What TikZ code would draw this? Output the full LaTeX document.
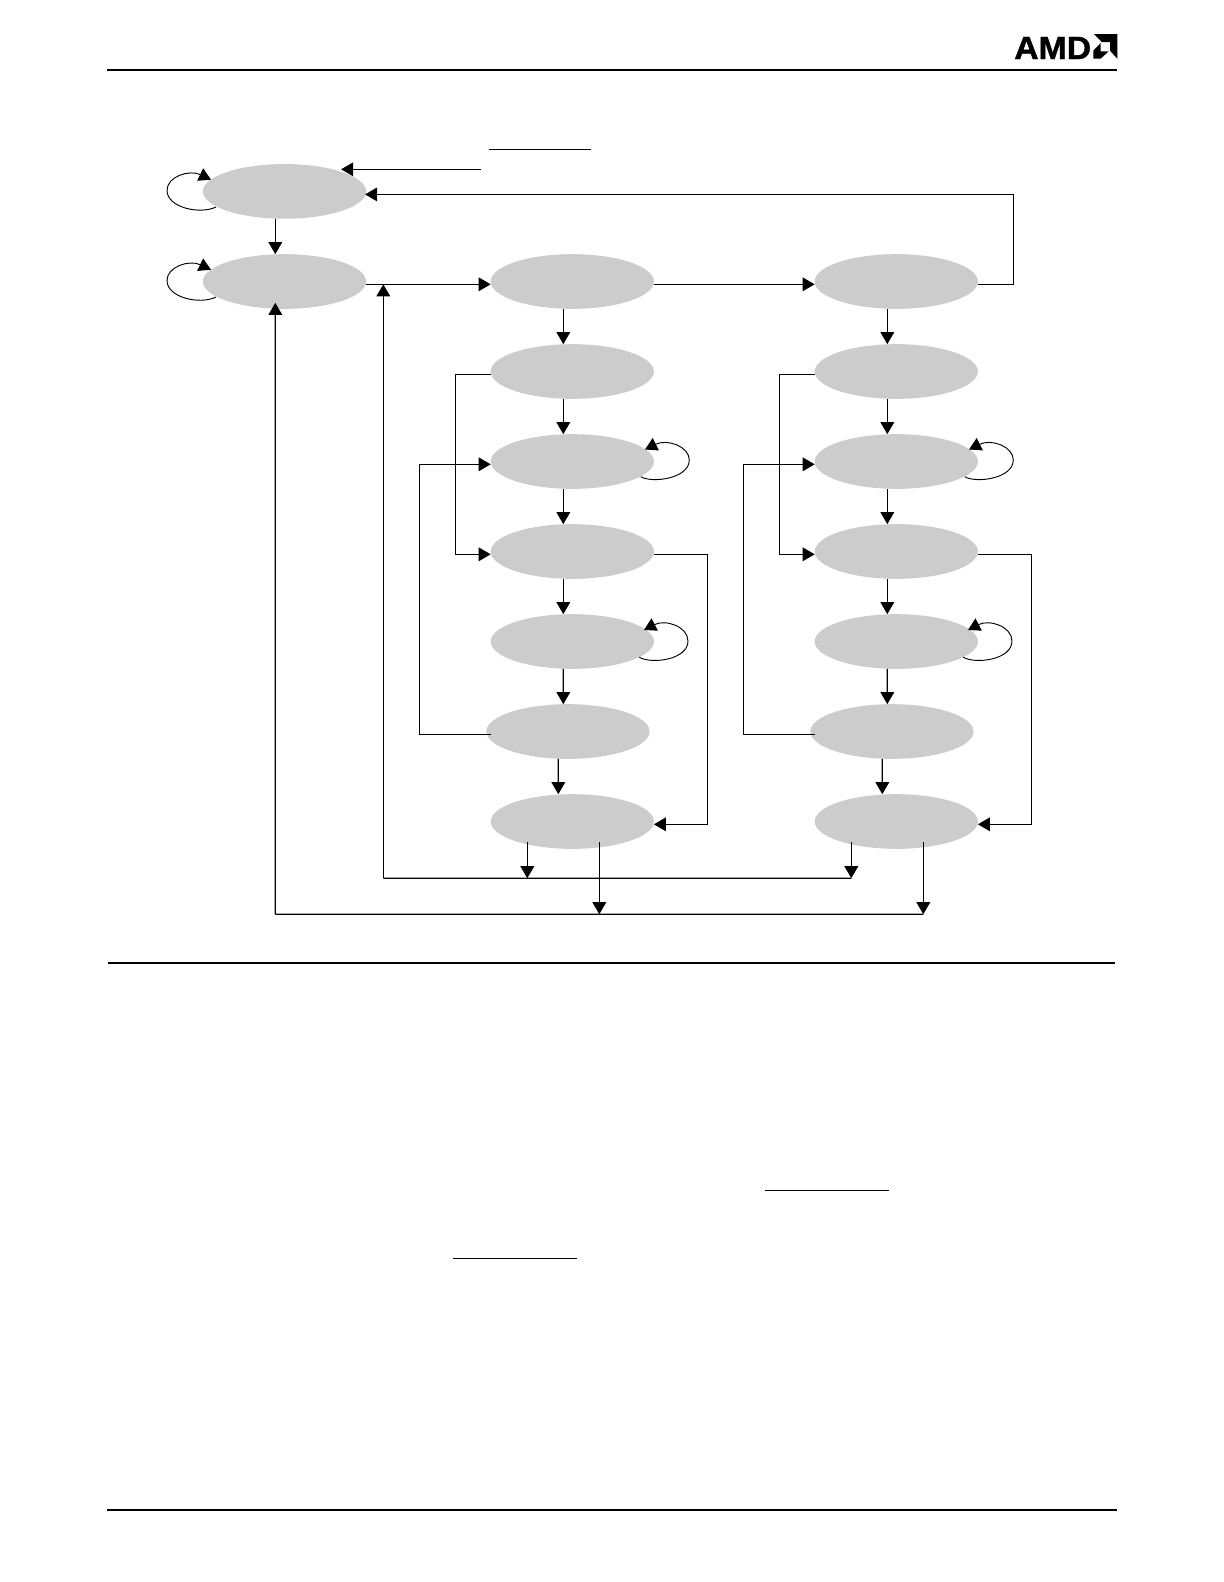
\documentclass[tikz,border=0pt]{standalone}
\usepackage{graphicx}
\usepackage{fontspec}
\setmainfont{Liberation Sans}
\newfontfamily\logofont[FakeBold=1.2]{Liberation Sans Bold}
\usetikzlibrary{arrows.meta,calc,shapes.geometric}
\definecolor{stategray}{HTML}{CCCCCC}
\tikzset{
  state/.style={ellipse,fill=stategray,draw=none,inner sep=0pt,outer sep=0pt,minimum width=122.4pt,minimum height=41pt},
  link/.style={line width=0.95pt,black},
  arr/.style={link,-{Triangle[width=10.2pt,length=9pt]}},
  looparr/.style={line width=0.7pt,black,-{Triangle[width=10.2pt,length=9pt]}},
  rulethick/.style={line width=1.5pt,black},
  rulethin/.style={line width=1pt,black},
}
\begin{document}
\begin{tikzpicture}[x=0.75pt,y=-0.75pt]
\useasboundingbox[fill=white] (0,0) rectangle (1224,1582);
% page rules
\coordinate (hl) at (107,70); \coordinate (hr) at (1117,70);
\coordinate (ml) at (108,963); \coordinate (mr) at (1115,963);
\coordinate (bl) at (107,1510); \coordinate (br) at (1117,1510);
\draw[rulethick] (hl) -- (hr);
\draw[rulethick] (ml) -- (mr);
\draw[rulethick] (bl) -- (br);
\coordinate (o1a) at (453,1258.3); \coordinate (o1b) at (577,1258.3);
\coordinate (o2a) at (765,1190.3); \coordinate (o2b) at (889,1190.3);
\coordinate (o3a) at (489,149.3); \coordinate (o3b) at (591,149.3);
\draw[rulethin] (o1a) -- (o1b);
\draw[rulethin] (o2a) -- (o2b);
\draw[line width=0.75pt] (o3a) -- (o3b);
% logo
\node[anchor=base west,inner sep=0pt] (logo) at (1014,59) {\scalebox{1.055}[1]{\logofont\fontsize{24pt}{24pt}\selectfont AMD}};
\fill[black] (1094,34) -- (1117.3,34) -- (1117.3,58.7) -- (1110,50.7) -- (1110,42) -- (1101.7,42) -- cycle;
\fill[black] (1093.3,50.7) -- (1100.7,43) -- (1100.7,51.3) -- (1108.7,51.3) -- (1100.7,58.7) -- (1093.3,58.7) -- cycle;
% states
\node[state] (a1) at (284.5,191.4) {};
\node[state] (a2) at (284.5,281.5) {};
\foreach \n/\dx in {b/0,c/324}{
  \pgfmathsetmacro{\xa}{572.3+\dx}
  \pgfmathsetmacro{\xb}{568+\dx}
  \node[state] (\n1) at (\xa,281.5) {};
  \node[state] (\n2) at (\xa,371.5) {};
  \node[state] (\n3) at (\xa,461.5) {};
  \node[state] (\n4) at (\xa,551.5) {};
  \node[state] (\n5) at (\xa,641.5) {};
  \node[state] (\n6) at (\xb,731.5) {};
  \node[state] (\n7) at (\xa,821.5) {};
}
% top column
\coordinate (stub) at (481,169.3);
\draw[arr] (stub) -- (stub -| {$(a1.east)+(-25,0)$});
\draw[arr] (c1.east |- 0,284.3) -- ++(35.4,0) |- ($(a1.east)+(-1,3)$);
\draw[arr] ($(a1.south)+(-9.2,0)$) -- ($(a2.north)+(-9.2,0)$);
\draw[arr] ($(a2.east)+(0,2.8)$) -- ($(b1.west)+(0,2.8)$);
\draw[arr] ($(b1.east)+(0,2.8)$) -- ($(c1.west)+(0,2.8)$);
% self loops left
\foreach \n in {a1,a2}{
  \draw[looparr] ($(\n.center)+(-68.5,15.6)$) .. controls ($(\n.center)+(-85,23.5)$) and ($(\n.center)+(-117.5,16)$) .. ($(\n.center)+(-117.5,-1)$) .. controls ($(\n.center)+(-117.5,-15)$) and ($(\n.center)+(-95,-22)$) .. ($(\n.center)+(-73.5,-11.7)$);
}
% columns
\foreach \n/\j in {b/455.4,c/779.4}{
  \pgfmathsetmacro{\far}{\j-35.7}
  \pgfmathsetmacro{\rt}{\j+251.9}
  % verticals
  \draw[arr] ($(\n1.south)+(-9,0)$) -- ($(\n2.north)+(-9,0)$);
  \draw[arr] ($(\n2.south)+(-9,0)$) -- ($(\n3.north)+(-9,0)$);
  \draw[arr] ($(\n3.south)+(-9,0)$) -- ($(\n4.north)+(-9,0)$);
  \draw[arr] ($(\n4.south)+(-9,0)$) -- ($(\n5.north)+(-9,0)$);
  \draw[arr] ($(\n5.south)+(-9,0)$) -- ($(\n6.north)+(-4.7,0)$);
  \draw[arr] ($(\n6.south)+(-9.7,0)$) -- ($(\n7.north)+(-14,0)$);
  % left elbows
  \draw[arr] ($(\n2.west)+(0,2.8)$) -- (\j,374.3) |- ($(\n4.west)+(0,2.8)$);
  \draw[arr] ($(\n6.west)+(5,2.8)$) -- (\far,734.3) |- ($(\n3.west)+(0,2.8)$);
  % right elbow
  \draw[arr] ($(\n4.east)+(0,2.8)$) -- (\rt,554.3) |- ($(\n7.east)+(0,2.8)$);
  % self loops right
  \draw[looparr] ($(\n3.center)+(68.4,15.2)$) .. controls ($(\n3.center)+(80,22)$) and ($(\n3.center)+(117,17)$) .. ($(\n3.center)+(117,-1.5)$) .. controls ($(\n3.center)+(117,-15)$) and ($(\n3.center)+(95,-23)$) .. ($(\n3.center)+(72.7,-12)$);
  \draw[looparr] ($(\n5.center)+(67,15.8)$) .. controls ($(\n5.center)+(80,23)$) and ($(\n5.center)+(115.7,18)$) .. ($(\n5.center)+(115.7,-0.5)$) .. controls ($(\n5.center)+(115.7,-15)$) and ($(\n5.center)+(93,-22.5)$) .. ($(\n5.center)+(71.7,-11.5)$);
}
% return buses
\coordinate (busA) at (383.3,878.3);
\coordinate (busB) at (275.3,914.3);
\draw[link] (busA) -- ($(c7.south)+(-45,29.4)$);
\draw[arr] (busA) -- (busA |- 0,284.3);
\draw[link] (busB) -- ($(c7.south)+(27,65.4)$);
\draw[arr] (busB) -- ($(a2.south)+(-9.2,-6)$);
\foreach \n in {b7,c7}{
  \draw[arr] ($(\n.south)+(-45,-7)$) -- ($(\n.south)+(-45,29.4)$);
  \draw[arr] ($(\n.south)+(27,-7)$) -- ($(\n.south)+(27,65.4)$);
}
\end{tikzpicture}
\end{document}
